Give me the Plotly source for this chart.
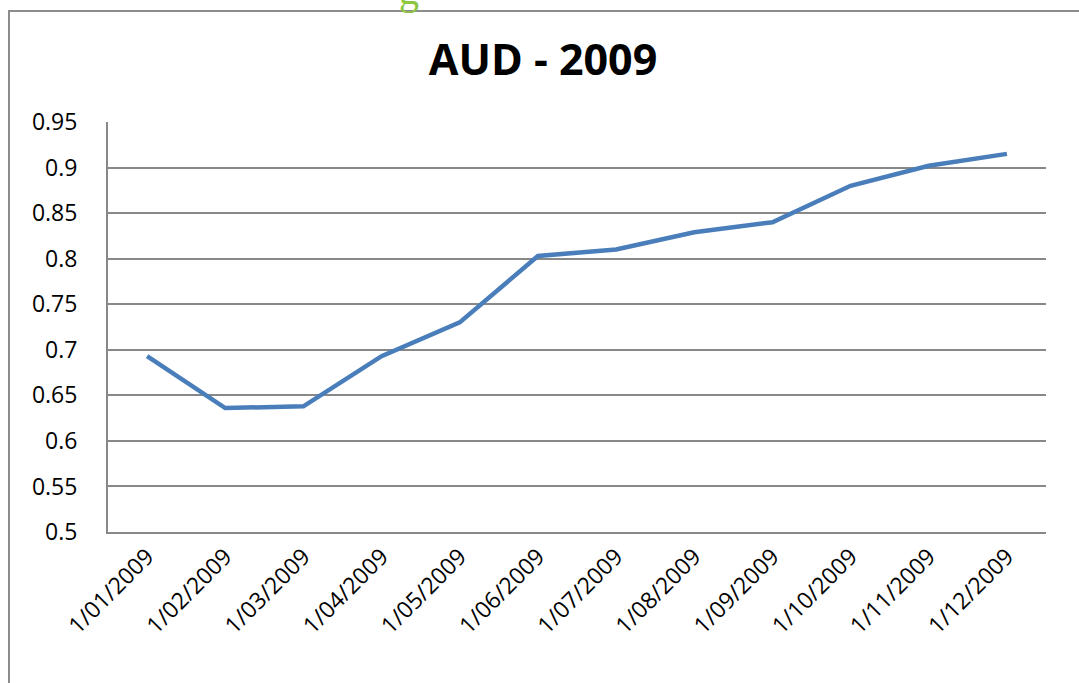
import plotly.graph_objects as go

categories = ["1/01/2009", "1/02/2009", "1/03/2009", "1/04/2009", "1/05/2009", "1/06/2009",
              "1/07/2009", "1/08/2009", "1/09/2009", "1/10/2009", "1/11/2009", "1/12/2009"]
aud_values = [0.693, 0.636, 0.638, 0.693, 0.730, 0.803, 0.810, 0.829, 0.840, 0.880, 0.902, 0.915]
y_ticks = [0.5, 0.55, 0.6, 0.65, 0.7, 0.75, 0.8, 0.85, 0.9, 0.95]
title_text = "AUD - 2009"

W, H = 1079, 683
L, R, T, B = 108, 33, 122, 151
pw, ph = W - L - R, H - T - B

def px_x(p):
    return (p - L) / pw

def px_y(p):
    return (H - B - p) / ph

fig = go.Figure()
fig.add_trace(go.Scatter(
    x=categories, y=aud_values, mode="lines",
    line=dict(color="#4A7EBB", width=4.5),
    showlegend=False, hoverinfo="x+y",
))

fig.update_layout(
    width=W, height=H,
    margin=dict(l=L, r=R, t=T, b=B),
    paper_bgcolor="white", plot_bgcolor="white",
    font=dict(family="Open Sans, Liberation Sans, sans-serif", color="black", size=22),
    title=dict(text="<b>" + title_text + "</b>", x=px_x(543), xref="paper", xanchor="center",
               y=1 - 60 / H, yanchor="middle", yref="container",
               font=dict(size=43, color="black", family="Open Sans, Liberation Sans, sans-serif")),
    xaxis=dict(
        type="category", tickangle=-45, showgrid=False, showline=True,
        linecolor="#888888", linewidth=2, ticks="", tickfont=dict(size=23),
        range=[-0.5, len(categories) - 0.5],
    ),
    yaxis=dict(
        range=[0.5, 0.95], tickvals=y_ticks, ticktext=[f"{v:g}" for v in y_ticks],
        showgrid=True, gridcolor="#888888", gridwidth=1.5, showline=True,
        linecolor="#888888", linewidth=2, ticks="", zeroline=False,
        tickfont=dict(size=23), ticklabelstandoff=24,
    ),
    shapes=[dict(type="rect", xref="paper", yref="paper",
                 x0=px_x(9), x1=px_x(W + 10), y0=px_y(11), y1=px_y(H + 10),
                 line=dict(color="#8c8c8c", width=2), fillcolor="rgba(0,0,0,0)", layer="below")],
    annotations=[dict(text="g", xref="paper", yref="paper", x=px_x(409), y=px_y(15),
                      xanchor="center", yanchor="bottom", showarrow=False,
                      font=dict(size=40, color="#8DC63F", family="Liberation Serif, serif"))],
)

fig.write_html("out.html", config={"displayModeBar": False},
               post_script="document.body.style.margin='0px';document.body.style.overflow='hidden';")
